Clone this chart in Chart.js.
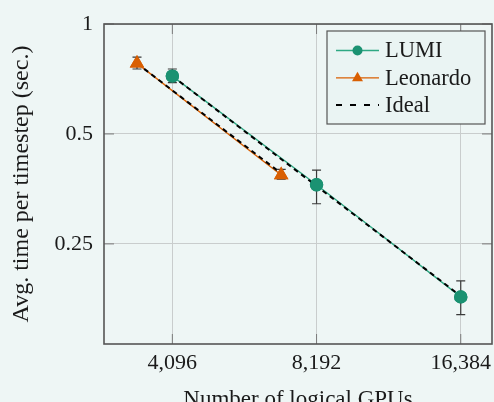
<!DOCTYPE html>
<html>
<head>
<meta charset="utf-8">
<script src="https://cdn.jsdelivr.net/npm/chart.js@4.4.0/dist/chart.umd.min.js"></script>
<style>
html, body { margin: 0; padding: 0; background: #eef6f5; overflow: hidden; }
</style>
</head>
<body>
<canvas id="myChart" width="494" height="402"></canvas>
<script>
// values (log-log)
const gpusLumi = [4096, 8192, 16384];
const timeLumi = [0.72, 0.363, 0.179];
const errLowLumi = [0.691, 0.322, 0.160];
const errHighLumi = [0.753, 0.398, 0.198];

const gpusLeonardo = [3456, 6912];
const timeLeonardo = [0.78, 0.386];
const errLowLeonardo = [0.753, 0.376];
const errHighLeonardo = [0.812, 0.400];

const idealLumi = [0.72, 0.36, 0.18];
const idealLeonardo = [0.78, 0.39];

const xTicks = [4096, 8192, 16384];
const yTicks = [0.25, 0.5, 1];

const green = '#1b9272';
const greenLine = '#2ea883';
const orange = '#d95f02';
const serif = '"Liberation Serif", "DejaVu Serif", serif';

let pts = (xs, ys) => xs.map((x, i) => ({x: x, y: ys[i]}));

const errorBars = [
    {dataset: 0, low: errLowLumi, high: errHighLumi},
    {dataset: 1, low: errLowLeonardo, high: errHighLeonardo}
];

// error bars, frame, inner ticks and legend, all drawn after the datasets
const extras = {
    id: 'extras',
    afterDatasetsDraw(chart) {
        let ctx = chart.ctx;
        let xs = chart.scales.x, ys = chart.scales.y;
        let area = chart.chartArea;

        // error bars
        ctx.save();
        ctx.strokeStyle = '#3a3a3a';
        ctx.lineWidth = 1.2;
        errorBars.forEach(eb => {
            let ds = chart.data.datasets[eb.dataset];
            ds.data.forEach((p, i) => {
                let px = xs.getPixelForValue(p.x);
                let top = ys.getPixelForValue(eb.high[i]);
                let bot = ys.getPixelForValue(eb.low[i]);
                ctx.beginPath();
                ctx.moveTo(px, top); ctx.lineTo(px, bot);
                ctx.moveTo(px - 4.5, top); ctx.lineTo(px + 4.5, top);
                ctx.moveTo(px - 4.5, bot); ctx.lineTo(px + 4.5, bot);
                ctx.stroke();
            });
        });
        ctx.restore();

        // markers back on top of the ideal dashes
        [0, 1].forEach(d => {
            chart.getDatasetMeta(d).data.forEach(el => el.draw(ctx, area));
        });

        // inner tick marks
        ctx.save();
        ctx.strokeStyle = '#7a7a7a';
        ctx.lineWidth = 1;
        ctx.beginPath();
        yTicks.forEach(v => {
            let py = ys.getPixelForValue(v);
            ctx.moveTo(area.left, py); ctx.lineTo(area.left + 10, py);
            ctx.moveTo(area.right, py); ctx.lineTo(area.right - 10, py);
        });
        xTicks.forEach(v => {
            let px = xs.getPixelForValue(v);
            ctx.moveTo(px, area.bottom); ctx.lineTo(px, area.bottom - 10);
            ctx.moveTo(px, area.top); ctx.lineTo(px, area.top + 10);
        });
        ctx.stroke();

        // frame
        ctx.strokeStyle = '#555555';
        ctx.lineWidth = 1.6;
        ctx.strokeRect(area.left, area.top, area.right - area.left, area.bottom - area.top);
        ctx.restore();

        // legend
        let bx = area.right - 165, by = area.top + 7, bw = 158, bh = 93;
        ctx.save();
        ctx.fillStyle = '#eaf4f3';
        ctx.fillRect(bx, by, bw, bh);
        ctx.strokeStyle = '#555555';
        ctx.lineWidth = 1.2;
        ctx.strokeRect(bx, by, bw, bh);
        let entries = [
            {label: 'LUMI', color: greenLine, marker: 'circle', mcolor: green},
            {label: 'Leonardo', color: orange, marker: 'triangle', mcolor: orange},
            {label: 'Ideal', color: '#000000', dash: [6, 8]}
        ];
        entries.forEach((e, i) => {
            let ly = by + 19.5 + i * 27.3;
            ctx.save();
            ctx.strokeStyle = e.color;
            ctx.lineWidth = e.dash ? 2 : 1.3;
            if (e.dash) ctx.setLineDash(e.dash);
            ctx.beginPath();
            ctx.moveTo(bx + 9, ly); ctx.lineTo(bx + 52, ly);
            ctx.stroke();
            ctx.restore();
            if (e.marker) {
                ctx.fillStyle = e.mcolor;
                ctx.beginPath();
                if (e.marker == 'circle') {
                    ctx.arc(bx + 30.5, ly, 5, 0, Math.PI * 2);
                } else {
                    ctx.moveTo(bx + 30.5, ly - 6);
                    ctx.lineTo(bx + 36, ly + 3.5);
                    ctx.lineTo(bx + 25, ly + 3.5);
                    ctx.closePath();
                }
                ctx.fill();
            }
            ctx.fillStyle = '#1a1a1a';
            ctx.font = '22.5px ' + serif;
            ctx.textBaseline = 'middle';
            ctx.fillText(e.label, bx + 58, ly + 1);
        });
        ctx.restore();
    }
};

new Chart('myChart', {
    type: 'line',
    data: {
        datasets: [
            {
                label: 'LUMI',
                data: pts(gpusLumi, timeLumi),
                borderColor: greenLine,
                borderWidth: 1.4,
                backgroundColor: green,
                pointBackgroundColor: green,
                pointBorderColor: green,
                pointRadius: 6,
                pointStyle: 'circle',
                order: 2
            },
            {
                label: 'Leonardo',
                data: pts(gpusLeonardo, timeLeonardo),
                borderColor: orange,
                borderWidth: 1.4,
                backgroundColor: orange,
                pointBackgroundColor: orange,
                pointBorderColor: orange,
                pointRadius: 7,
                pointStyle: 'triangle',
                order: 2
            },
            {
                label: 'Ideal',
                data: pts(gpusLumi, idealLumi),
                borderColor: '#000000',
                borderWidth: 2,
                borderDash: [5, 4],
                pointRadius: 0,
                order: 1
            },
            {
                label: 'Ideal',
                data: pts(gpusLeonardo, idealLeonardo),
                borderColor: '#000000',
                borderWidth: 2,
                borderDash: [5, 4],
                pointRadius: 0,
                order: 1
            }
        ]
    },
    options: {
        responsive: false,
        animation: false,
        layout: {autoPadding: false, padding: {top: 24, right: 2, left: 0, bottom: 0}},
        plugins: {legend: {display: false}, tooltip: {enabled: false}},
        scales: {
            x: {
                type: 'logarithmic',
                min: 2949,
                max: 19040,
                afterBuildTicks: s => { s.ticks = xTicks.map(v => ({value: v})); },
                afterFit: s => { s.height = 58; s.paddingLeft = 0; s.paddingRight = 0; },
                grid: {color: '#c9cdcd', lineWidth: 1, drawTicks: false},
                border: {display: false},
                ticks: {
                    autoSkip: false,
                    maxRotation: 0,
                    padding: 6,
                    color: '#1a1a1a',
                    font: {family: serif, size: 22},
                    callback: v => Number(v).toLocaleString('en-US')
                },
                title: {
                    display: true,
                    text: 'Number of logical GPUs',
                    color: '#1a1a1a',
                    font: {family: serif, size: 23},
                    padding: {top: 0, bottom: -11.5}
                }
            },
            y: {
                type: 'logarithmic',
                min: 0.133,
                max: 1,
                afterBuildTicks: s => { s.ticks = yTicks.map(v => ({value: v})); },
                afterFit: s => { s.width = 104; s.paddingTop = 0; s.paddingBottom = 0; },
                grid: {color: '#c9cdcd', lineWidth: 1, drawTicks: false},
                border: {display: false},
                ticks: {
                    autoSkip: false,
                    padding: 11,
                    color: '#1a1a1a',
                    font: {family: serif, size: 22},
                    callback: v => String(v)
                },
                title: {
                    display: true,
                    text: 'Avg. time per timestep (sec.)',
                    color: '#1a1a1a',
                    font: {family: serif, size: 24},
                    padding: {top: 7, bottom: 0}
                }
            }
        }
    },
    plugins: [extras]
});
</script>
</body>
</html>
